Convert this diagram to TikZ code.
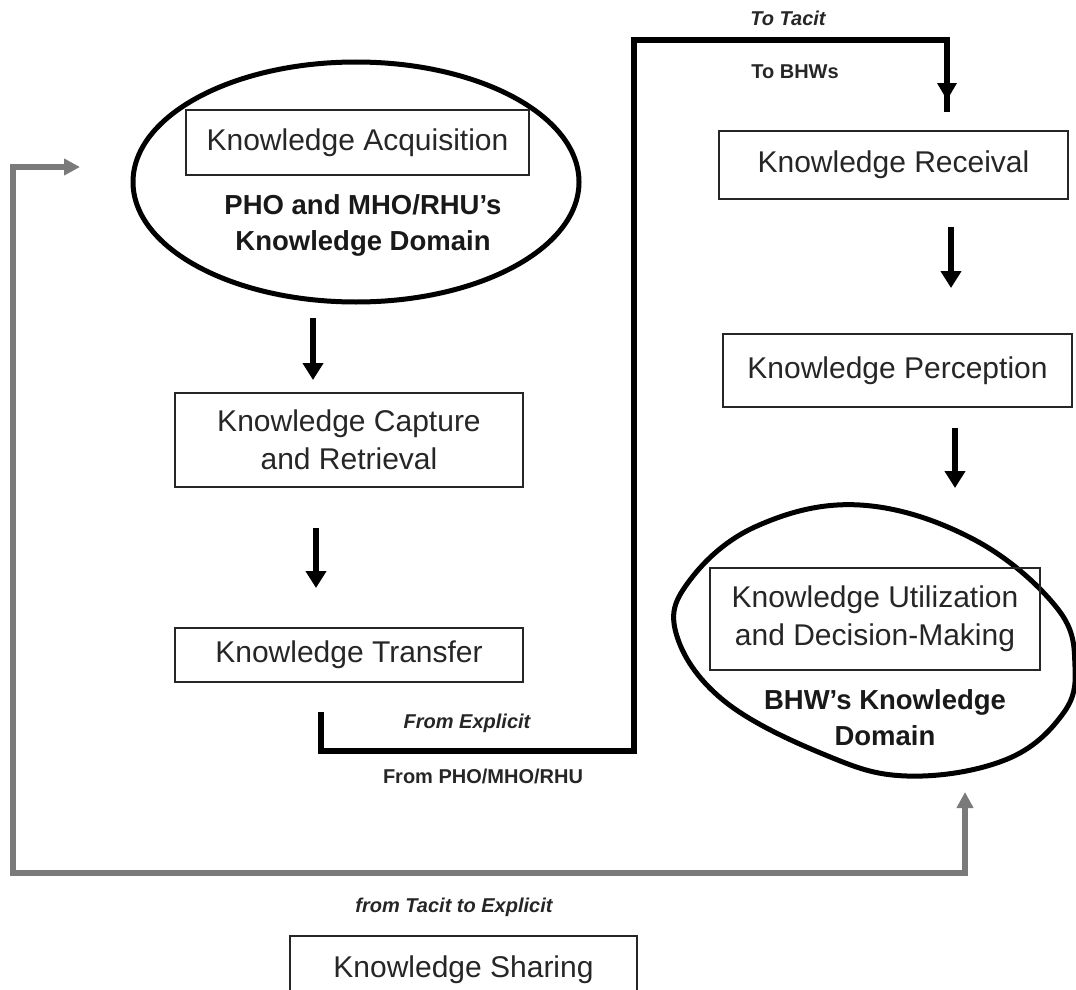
\documentclass[tikz,border=0pt]{standalone}
\usepackage{fontspec}
\setmainfont{Liberation Sans}
\usetikzlibrary{arrows.meta,shapes.geometric}
\begin{document}
\begin{tikzpicture}[x=1pt,y=-1pt,
  stagebox/.style={draw=black!85, line width=1.6pt, inner sep=0pt, align=center,
    font=\fontsize{30}{38}\selectfont, text=black!85},
  domtext/.style={align=center, font=\fontsize{27.5}{36}\selectfont\bfseries, text=black!90},
  routetag/.style={font=\fontsize{20}{24}\selectfont\bfseries, text=black!85},
  routetagit/.style={routetag, font=\fontsize{20}{24}\selectfont\bfseries\itshape},
  flowarrow/.style={draw=black, line width=5.5pt, -{Triangle[width=20pt,length=17pt]}},
  routeline/.style={draw=black, line width=6pt, line join=miter},
  loopline/.style={draw=black!52, line width=5.5pt, line join=miter,
    {Triangle[width=16pt,length=16pt]}-{Triangle[width=16pt,length=16pt]}}
]
\useasboundingbox (0,0) rectangle (1076,990);
\clip (0,0) rectangle (1076,990);

% PHO / MHO / RHU knowledge domain
\node[draw, ellipse, line width=5pt, minimum width=446pt, minimum height=240pt, inner sep=0pt]
  (srcdom) at (356,182) {};
\node[stagebox, minimum width=343pt, minimum height=65pt] (acq) at (357.5,142.5) {Knowledge Acquisition};
\node[domtext] (srclabel) at (363,225) {PHO and MHO/RHU’s\\Knowledge Domain};

% left column of stages
\node[stagebox, minimum width=348pt, minimum height=94pt] (cap) at (349,440) {Knowledge Capture\\and Retrieval};
\node[stagebox, minimum width=348pt, minimum height=54pt] (trans) at (349,655) {Knowledge Transfer};

% right column of stages
\node[stagebox, minimum width=349pt, minimum height=68pt] (recv) at (893.5,165) {Knowledge Receival};
\node[stagebox, minimum width=349pt, minimum height=73pt] (perc) at (897.5,370.5) {Knowledge Perception};

% BHW knowledge domain
\draw[line width=5pt] plot[smooth cycle, tension=0.65] coordinates {
  (860,505) (973,539) (1057,608) (1075,667) (1062,715) (1005,760)
  (907,776) (823,754) (723,700) (676,633) (690,580) (757,526)};
\node[stagebox, minimum width=330pt, minimum height=102pt] (util) at (875,619) {Knowledge Utilization\\and Decision-Making};
\node[domtext] (bhwlabel) at (885,718) {BHW’s Knowledge\\Domain};

% sharing stage
\node[stagebox, minimum width=347pt, minimum height=68pt] (share) at (463.5,970) {Knowledge Sharing};

% arrow end points
\coordinate (a1s) at (313,318);  \coordinate (a1e) at (313,380);
\coordinate (a2s) at (316,528);  \coordinate (a2e) at (316,588);
\coordinate (a3s) at (951,227);  \coordinate (a3e) at (951,288);
\coordinate (a4s) at (955,428);  \coordinate (a4e) at (955,488);
\coordinate (ts) at (321,712);   \coordinate (te) at (947,100);
\coordinate (gs) at (80,167);    \coordinate (ge) at (965,792);

\draw[flowarrow] (a1s) -- (a1e);
\draw[flowarrow] (a2s) -- (a2e);
\draw[flowarrow] (a3s) -- (a3e);
\draw[flowarrow] (a4s) -- (a4e);

% transfer route to the BHWs
\draw[routeline] (ts) |- (634,751) |- (947,40) -- ([yshift=-12pt]te);
\fill[black] (te) -- ++(-10,-17) -- ++(20,0) -- cycle;

% sharing loop back to the source domain
\draw[loopline] (gs) -| (13,873) -| (ge);

% route labels
\node[routetagit] (lt1) at (788,18) {To Tacit};
\node[routetag]  (lt2) at (795,72) {To BHWs};
\node[routetagit] (lf1) at (467,723) {From Explicit};
\node[routetag]  (lf2) at (483,776) {From PHO/MHO/RHU};
\node[routetagit] (ls)  at (454,907) {from Tacit to Explicit};
\end{tikzpicture}
\end{document}
